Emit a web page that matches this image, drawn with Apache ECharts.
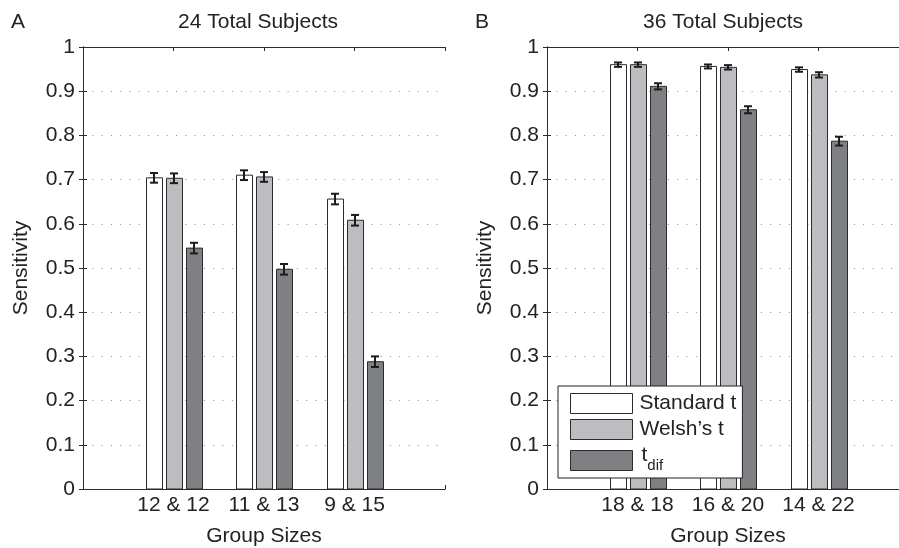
<!DOCTYPE html>
<html>
<head>
<meta charset="utf-8">
<script src="https://cdn.jsdelivr.net/npm/echarts@6/dist/echarts.min.js"></script>
<style>
  html, body { margin: 0; padding: 0; background: #fff; }
  #chart { width: 899px; height: 548px; }
</style>
</head>
<body>
<div id="chart"></div>
<script>
// Group-size labels for each panel
const groupsA = ['12 & 12', '11 & 13', '9 & 15'];
const groupsB = ['18 & 18', '16 & 20', '14 & 22'];

// Panel A: 24 total subjects (mean sensitivity and error-bar half width)
const stdA = [0.704, 0.710, 0.656];
const stdErrA = [0.011, 0.011, 0.012];
const welA = [0.703, 0.706, 0.608];
const welErrA = [0.011, 0.011, 0.012];
const difA = [0.545, 0.497, 0.288];
const difErrA = [0.012, 0.012, 0.012];

// Panel B: 36 total subjects
const stdB = [0.960, 0.956, 0.949];
const stdErrB = [0.005, 0.0045, 0.005];
const welB = [0.960, 0.954, 0.937];
const welErrB = [0.005, 0.005, 0.006];
const difB = [0.911, 0.858, 0.787];
const difErrB = [0.007, 0.008, 0.010];

const FONT = '"Liberation Sans", Arial, Helvetica, sans-serif';
const TEXT = '#222';
const LINE = '#2b2b2b';
const COLORS = { std: '#ffffff', wel: '#bcbdc0', dif: '#7f8084' };
const BAR_W = 17;

function toData(vals, errs) {
  return vals.map((v, i) => [i + 1, v, errs[i]]);
}

// Draws one bar plus its error bar, shifted sideways within the group
function barRenderer(offset) {
  return function (params, api) {
    const x = api.value(0), y = api.value(1), e = api.value(2);
    const top = api.coord([x, y]);
    const base = api.coord([x, 0]);
    const cx = Math.round(top[0] + offset);
    const hi = api.coord([x, y + e])[1];
    const lo = api.coord([x, y - e])[1];
    const left = Math.round(cx - BAR_W / 2) + 0.5;
    return {
      type: 'group',
      children: [
        {
          type: 'rect',
          shape: { x: left, y: top[1], width: BAR_W - 1, height: base[1] - top[1] },
          style: { fill: api.visual('color'), stroke: LINE, lineWidth: 1 }
        },
        { type: 'line', shape: { x1: cx, y1: hi, x2: cx, y2: lo }, style: { stroke: '#1c1c1c', lineWidth: 2 } },
        { type: 'line', shape: { x1: cx - 4, y1: hi, x2: cx + 4, y2: hi }, style: { stroke: '#1c1c1c', lineWidth: 2 } },
        { type: 'line', shape: { x1: cx - 4, y1: lo, x2: cx + 4, y2: lo }, style: { stroke: '#1c1c1c', lineWidth: 2 } }
      ]
    };
  };
}

function xAxes(gridIndex, groups) {
  return [
    {
      type: 'value', gridIndex: gridIndex, min: 0, max: 4, interval: 1,
      name: 'Group Sizes', nameLocation: 'middle', nameGap: 35,
      nameTextStyle: { fontSize: 21, color: TEXT, fontFamily: FONT, lineHeight: 24 },
      axisLine: { onZero: false, lineStyle: { color: LINE, width: 1 } },
      axisTick: { show: true, inside: true, length: 4, lineStyle: { color: LINE } },
      axisLabel: {
        margin: 6, fontSize: 21, color: TEXT, fontFamily: FONT,
        formatter: v => groups[v - 1] || ''
      },
      splitLine: { show: false }
    },
    {
      type: 'value', gridIndex: gridIndex, min: 0, max: 4, interval: 1, position: 'top',
      axisLine: { onZero: false, lineStyle: { color: LINE, width: 1 } },
      axisTick: { show: true, inside: true, length: 4, lineStyle: { color: LINE } },
      axisLabel: { show: false },
      splitLine: { show: false }
    }
  ];
}

function yAxes(gridIndex) {
  return [
    {
      type: 'value', gridIndex: gridIndex, min: 0, max: 1, interval: 0.1,
      name: 'Sensitivity', nameLocation: 'middle', nameGap: 50,
      nameTextStyle: { fontSize: 21, color: TEXT, fontFamily: FONT, lineHeight: 24 },
      axisLine: { show: true, lineStyle: { color: LINE, width: 1 } },
      axisTick: { show: true, inside: true, length: 4, lineStyle: { color: LINE } },
      axisLabel: { margin: 8, fontSize: 21, color: TEXT, fontFamily: FONT },
      splitLine: { show: true, lineStyle: { color: '#8a8a8a', width: 1, type: [1, 8.3] } }
    },
    {
      type: 'value', gridIndex: gridIndex, min: 0, max: 1, interval: 0.1, position: 'right',
      axisLine: { show: true, lineStyle: { color: LINE, width: 1 } },
      axisTick: { show: true, inside: true, length: 4, lineStyle: { color: LINE } },
      axisLabel: { show: false },
      splitLine: { show: false }
    }
  ];
}

function panelSeries(gridIdx, std, stdErr, wel, welErr, dif, difErr) {
  const xi = gridIdx * 2, yi = gridIdx * 2;
  const common = { type: 'custom', xAxisIndex: xi, yAxisIndex: yi, clip: false, silent: true };
  return [
    Object.assign({ name: 'Standard t', itemStyle: { color: COLORS.std }, renderItem: barRenderer(-20), data: toData(std, stdErr) }, common),
    Object.assign({ name: 'Welsh\u2019s t', itemStyle: { color: COLORS.wel }, renderItem: barRenderer(0), data: toData(wel, welErr) }, common),
    Object.assign({ name: 't_dif', itemStyle: { color: COLORS.dif }, renderItem: barRenderer(20), data: toData(dif, difErr) }, common)
  ];
}

const chart = echarts.init(document.getElementById('chart'), null, { renderer: 'canvas' });

const option = {
  animation: false,
  backgroundColor: '#ffffff',
  textStyle: { fontFamily: FONT },
  // the right-hand panel runs slightly past the canvas edge, so keep its full width
  grid: [
    { left: 83, top: 47, width: 362, height: 442, outerBoundsMode: 'none', containLabel: false },
    { left: 547, top: 47, width: 362, height: 442, outerBoundsMode: 'none', containLabel: false }
  ],
  xAxis: xAxes(0, groupsA).concat(xAxes(1, groupsB)),
  yAxis: yAxes(0).concat(yAxes(1)),
  legend: {
    orient: 'vertical',
    left: 558, top: 386,
    padding: [7, 6, 2, 12],
    itemGap: 5,
    itemWidth: 62, itemHeight: 20,
    backgroundColor: '#ffffff',
    borderColor: '#222', borderWidth: 1,
    selectedMode: false,
    data: [
      { name: 'Standard t', icon: 'rect', itemStyle: { color: COLORS.std, borderColor: LINE, borderWidth: 1 } },
      { name: 'Welsh\u2019s t', icon: 'rect', itemStyle: { color: COLORS.wel, borderColor: LINE, borderWidth: 1 } },
      { name: 't_dif', icon: 'rect', itemStyle: { color: COLORS.dif, borderColor: LINE, borderWidth: 1 } }
    ],
    formatter: name => name === 't_dif' ? '{t|t}{s|dif}' : name,
    textStyle: {
      fontSize: 21, color: TEXT, fontFamily: FONT, lineHeight: 20, padding: [0, 0, 0, 2],
      rich: {
        t: { fontSize: 21, color: TEXT, fontFamily: FONT, lineHeight: 24, padding: [0, 0, 10, 2] },
        s: { fontSize: 15, color: TEXT, fontFamily: FONT, lineHeight: 18, padding: [10, 0, 0, 0] }
      }
    }
  },
  graphic: [
    { type: 'text', x: 18, y: 22, style: { text: 'A', font: '21px ' + FONT, fill: TEXT, textAlign: 'center', textVerticalAlign: 'middle' } },
    { type: 'text', x: 482, y: 22, style: { text: 'B', font: '21px ' + FONT, fill: TEXT, textAlign: 'center', textVerticalAlign: 'middle' } },
    { type: 'text', x: 258, y: 22, style: { text: '24 Total Subjects', font: '21px ' + FONT, fill: TEXT, textAlign: 'center', textVerticalAlign: 'middle' } },
    { type: 'text', x: 723, y: 22, style: { text: '36 Total Subjects', font: '21px ' + FONT, fill: TEXT, textAlign: 'center', textVerticalAlign: 'middle' } }
  ],
  series: panelSeries(0, stdA, stdErrA, welA, welErrA, difA, difErrA)
    .concat(panelSeries(1, stdB, stdErrB, welB, welErrB, difB, difErrB))
};

chart.setOption(option);
</script>
</body>
</html>
